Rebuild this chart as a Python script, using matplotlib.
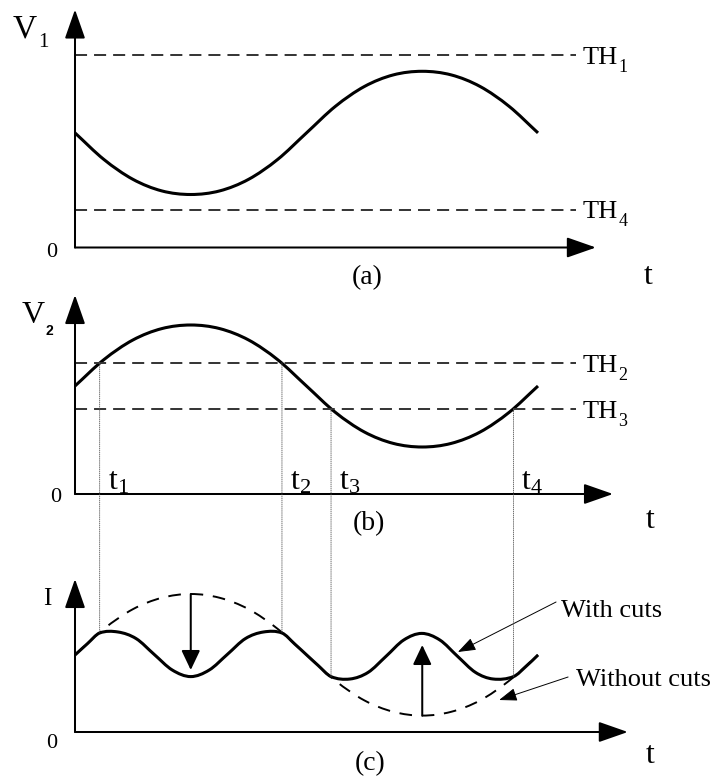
import matplotlib
matplotlib.use('Agg')
import matplotlib.pyplot as plt
from matplotlib.path import Path
from matplotlib.patches import PathPatch, ConnectionPatch

plt.rcParams['font.family'] = 'Liberation Serif'
plt.rcParams['mathtext.fontset'] = 'custom'
plt.rcParams['mathtext.rm'] = 'Liberation Serif'
plt.rcParams['mathtext.it'] = 'Liberation Serif'
plt.rcParams['mathtext.default'] = 'rm'

# --- data (time in arbitrary units, one period = 10) ---
T_SAMPLES = [0, 0.625, 1.25, 1.875, 2.5, 3.125, 3.75, 4.375, 5.0,
             5.625, 6.25, 6.875, 7.5, 8.125, 8.75, 9.375, 10.0]
V1_VALUES = [5.73, 4.40, 3.41, 2.83, 2.65, 2.83, 3.41, 4.40, 5.73,
             7.06, 8.05, 8.63, 8.81, 8.63, 8.05, 7.06, 5.73]
V2_VALUES = [5.40, 6.72, 7.70, 8.27, 8.45, 8.27, 7.70, 6.72, 5.40,
             4.08, 3.10, 2.53, 2.35, 2.53, 3.10, 4.08, 5.40]
I_NO_CUTS = [3.86, 5.16, 6.14, 6.71, 6.90, 6.71, 6.14, 5.16, 3.86,
             2.56, 1.58, 1.01, 0.82, 1.01, 1.58, 2.56, 3.86]

T_CUTS = [0, 0.27, 0.533, 0.93, 1.32, 1.71, 2.1, 2.5, 2.9, 3.29, 3.68, 4.07,
          4.47, 4.75, 5.0, 5.25, 5.53, 5.94, 6.33, 6.72, 7.1, 7.49, 7.88,
          8.26, 8.65, 9.03, 9.47, 9.75, 10.0]
I_CUTS = [3.85, 4.42, 4.95, 5.00, 4.67, 3.88, 3.10, 2.77, 3.10, 3.88, 4.67, 5.00,
          4.95, 4.39, 3.86, 3.33, 2.77, 2.65, 2.98, 3.79, 4.60, 4.93, 4.60,
          3.79, 2.98, 2.65, 2.77, 3.30, 3.85]

TH1, TH4 = 9.65, 1.88
TH2, TH3 = 6.57, 4.25
T_MARKS = [0.533, 4.47, 5.53, 9.47]          # t1..t4
MARK_LEVELS = [TH2, TH2, TH3, TH3]
MARK_CURRENT = [4.95, 4.95, 2.77, 2.77]
MARK_NAMES = ['1', '2', '3', '4']

# --- geometry (pixels) ---
FIG_W, FIG_H = 716, 780
ORIGIN_X = 75
PX_PER_T = 46.3
PX_PER_V = 20.0

CURVE_LW = 2.2
AXIS_LW = 1.45
TH_DASH = (0, (6.2, 3.6))


def make_axes(fig, top, bottom, origin_y):
    ax = fig.add_axes([0, 1 - bottom / FIG_H, 1, (bottom - top) / FIG_H])
    ax.set_xlim(-ORIGIN_X / PX_PER_T, (FIG_W - ORIGIN_X) / PX_PER_T)
    ax.set_ylim((origin_y - bottom) / PX_PER_V, (origin_y - top) / PX_PER_V)
    ax.set_axis_off()
    ax.patch.set_visible(False)
    return ax


def smooth_path(ts, vs):
    """Bezier path through the points, tangents from neighbouring points."""
    n = len(ts)
    slopes = []
    for i in range(n):
        a, b = max(i - 1, 0), min(i + 1, n - 1)
        slopes.append((vs[b] - vs[a]) / (ts[b] - ts[a]))
    verts = [(ts[0], vs[0])]
    codes = [Path.MOVETO]
    for i in range(n - 1):
        h = (ts[i + 1] - ts[i]) / 3
        verts += [(ts[i] + h, vs[i] + slopes[i] * h),
                  (ts[i + 1] - h, vs[i + 1] - slopes[i + 1] * h),
                  (ts[i + 1], vs[i + 1])]
        codes += [Path.CURVE4] * 3
    return Path(verts, codes)


def draw_curve(ax, ts, vs, **kw):
    patch = PathPatch(smooth_path(ts, vs), fill=False, edgecolor='black',
                      capstyle='butt', joinstyle='round', **kw)
    ax.add_patch(patch)


def draw_frame(ax, x_tip, y_tip):
    style = '-|>,head_length=0.4,head_width=0.14'
    for tip in [(x_tip, 0), (0, y_tip)]:
        ax.annotate('', xy=tip, xytext=(0, 0),
                    arrowprops=dict(arrowstyle=style, mutation_scale=45, lw=AXIS_LW,
                                    color='black', shrinkA=0, shrinkB=0))


def threshold(ax, level, sub, base_y):
    ax.plot([0, 10.82], [level, level], color='#333333', lw=1.4, ls=TH_DASH)
    ax.text(10.97, base_y, 'TH', fontsize=19, ha='left', va='baseline')
    ax.text(11.74, base_y - 0.4, sub, fontsize=13, ha='left', va='baseline')


fig = plt.figure(figsize=(FIG_W / 100, FIG_H / 100), dpi=100)

# ---------------- panel (a) ----------------
ax_a = make_axes(fig, 0, 265, 247.5)
draw_frame(ax_a, 11.25, 11.9)
threshold(ax_a, TH1, '1', 9.175)
threshold(ax_a, TH4, '4', 1.475)
draw_curve(ax_a, T_SAMPLES, V1_VALUES, lw=CURVE_LW)
ax_a.text(-1.339, 10.525, 'V', fontsize=24, ha='left', va='baseline')
ax_a.text(-0.80, 10.025, '1', fontsize=15, ha='left', va='baseline')
ax_a.text(-0.497, -0.475, '0', fontsize=16, ha='center', va='baseline')
ax_a.text(6.31, -1.825, '(a)', fontsize=20, ha='center', va='baseline')
ax_a.text(12.38, -1.825, 't', fontsize=23, ha='center', va='baseline')

# ---------------- panel (b) ----------------
ax_b = make_axes(fig, 265, 522, 494)
draw_frame(ax_b, 11.62, 9.95)
threshold(ax_b, TH2, '2', 6.1)
threshold(ax_b, TH3, '3', 3.8)
draw_curve(ax_b, T_SAMPLES, V2_VALUES, lw=CURVE_LW)
ax_b.text(-1.145, 8.55, 'V', fontsize=23, ha='left', va='baseline')
ax_b.text(-0.64, 7.95, '2', fontsize=10, fontweight='bold', family='Liberation Sans',
          ha='left', va='baseline')
ax_b.text(-0.41, -0.4, '0', fontsize=16, ha='center', va='baseline')
ax_b.text(6.35, -1.8, '(b)', fontsize=20, ha='center', va='baseline')
ax_b.text(12.42, -1.7, 't', fontsize=23, ha='center', va='baseline')
for t_mark, name in zip(T_MARKS, MARK_NAMES):
    ax_b.text(t_mark + 0.17, 0.2, 't$_{%s}$' % name, fontsize=23, ha='left', va='baseline')

# ---------------- panel (c) ----------------
ax_c = make_axes(fig, 522, 780, 732)
draw_frame(ax_c, 11.94, 7.65)
draw_curve(ax_c, T_SAMPLES, I_NO_CUTS, lw=1.4, linestyle=(0, (6.5, 5)))
draw_curve(ax_c, T_CUTS, I_CUTS, lw=CURVE_LW)
ax_c.text(-0.605, 6.35, 'I', fontsize=18, ha='center', va='baseline')
ax_c.text(-0.497, -0.8, '0', fontsize=16, ha='center', va='baseline')
ax_c.text(6.37, -1.9, '(c)', fontsize=20, ha='center', va='baseline')
ax_c.text(12.42, -1.55, 't', fontsize=23, ha='center', va='baseline')

big_head = '-|>,head_length=0.4,head_width=0.19'
ax_c.annotate('', xy=(T_SAMPLES[4], 3.1), xytext=(T_SAMPLES[4], I_NO_CUTS[4]),
              arrowprops=dict(arrowstyle=big_head, mutation_scale=30, lw=1.45,
                              color='black', shrinkA=0, shrinkB=0))
ax_c.annotate('', xy=(T_SAMPLES[12], 4.35), xytext=(T_SAMPLES[12], I_NO_CUTS[12]),
              arrowprops=dict(arrowstyle=big_head, mutation_scale=30, lw=1.45,
                              color='black', shrinkA=0, shrinkB=0))

small_head = '-|>,head_length=0.55,head_width=0.2'
ax_c.annotate('', xy=(8.27, 4.0), xytext=(10.39, 6.5),
              arrowprops=dict(arrowstyle=small_head, mutation_scale=20, lw=0.7,
                              color='black', shrinkA=0, shrinkB=0))
ax_c.annotate('', xy=(9.16, 1.6), xytext=(10.65, 2.75),
              arrowprops=dict(arrowstyle=small_head, mutation_scale=20, lw=0.7,
                              color='black', shrinkA=0, shrinkB=0))
ax_c.text(10.5, 5.75, 'With cuts', fontsize=19, ha='left', va='baseline')
ax_c.text(10.82, 2.3, 'Without cuts', fontsize=19, ha='left', va='baseline')

# dotted guides from the threshold crossings down to the current trace
for t_mark, level, cur in zip(T_MARKS, MARK_LEVELS, MARK_CURRENT):
    con = ConnectionPatch(xyA=(t_mark, level), coordsA=ax_b.transData,
                          xyB=(t_mark, cur), coordsB=ax_c.transData,
                          color='#555555', lw=0.6, linestyle=(0, (1, 1.5)))
    fig.add_artist(con)

fig.savefig('out.png', dpi=100)
plt.close(fig)
